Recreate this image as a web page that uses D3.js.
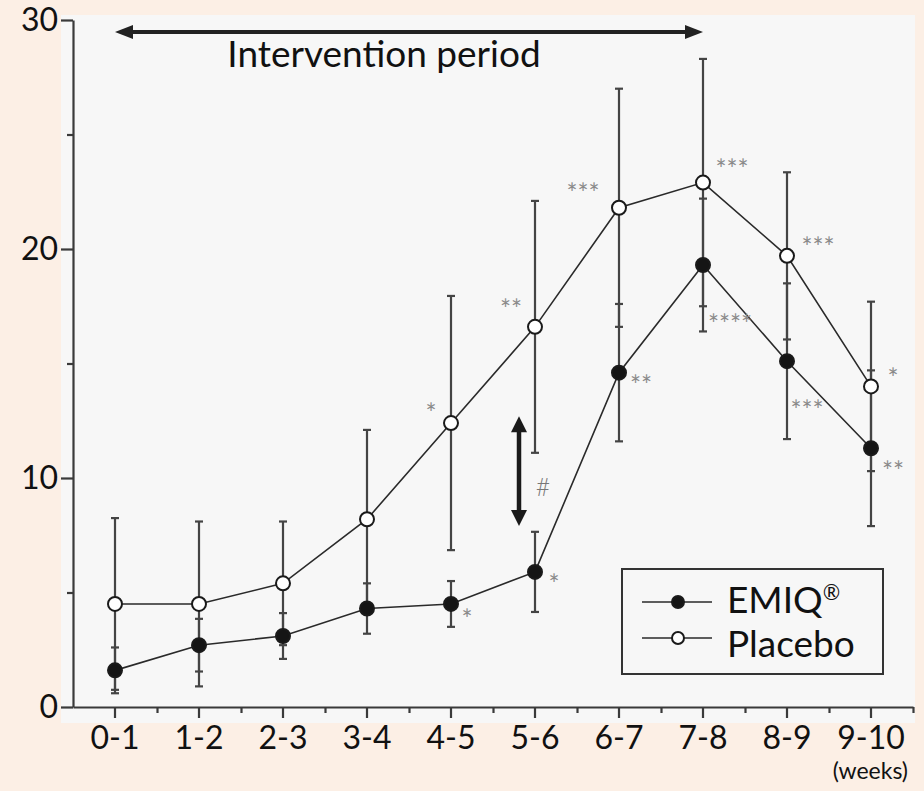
<!DOCTYPE html>
<html>
<head>
<meta charset="utf-8">
<script src="https://cdn.jsdelivr.net/npm/d3@7"></script>
<style>
  body { margin: 0; background: #fcefe5; }
  svg { display: block; font-family: Lato, "Open Sans", sans-serif; }
</style>
</head>
<body>
<div id="chart"></div>
<script>
// values
const weeks = ['0-1', '1-2', '2-3', '3-4', '4-5', '5-6', '6-7', '7-8', '8-9', '9-10'];
const emiqMean = [1.6, 2.7, 3.1, 4.3, 4.5, 5.9, 14.6, 19.3, 15.1, 11.3];
const emiqSD = [1.0, 1.15, 1.0, 1.1, 1.0, 1.75, 3.0, 2.9, 3.4, 3.4];
const placeboMean = [4.5, 4.5, 5.4, 8.2, 12.4, 16.6, 21.8, 22.9, 19.7, 14.0];
const placeboSD = [3.75, 3.6, 2.7, 3.9, 5.55, 5.5, 5.2, 5.4, 3.65, 3.7];
const emiqSig = ['', '', '', '', '*', '*', '**', '****', '***', '**'];
const placeboSig = ['', '', '', '', '*', '**', '***', '***', '***', '*'];
const yMajor = [0, 10, 20, 30];
const yMinor = [5, 15, 25];

// where each significance mark sits relative to its point (px)
const emiqSigOffset = [null, null, null, null, [16, 11], [19, 8], [22, 8], [27, 55], [20, 44], [22, 18]];
const placeboSigOffset = [null, null, null, null, [-20, -14], [-24, -22], [-36, -19], [29, -18], [31, -13], [22, -13]];

const width = 924, height = 791;

const svg = d3.select('#chart')
  .append('svg')
  .attr('width', width)
  .attr('height', height);

// plot panel
svg.append('rect')
  .attr('x', 61).attr('y', 15)
  .attr('width', 854).attr('height', 708)
  .attr('fill', '#f7f7f7');

const x = d3.scaleBand().domain(weeks).range([73, 913]);
const xIdx = d3.scaleLinear().domain([-0.5, weeks.length - 0.5]).range([73, 913]);
const y = d3.scaleLinear().domain([0, 30]).range([707, 20]);
const cx = d => x(d) + x.bandwidth() / 2;

const axisColor = '#3a3a3a';

// y axis
const gy = svg.append('g').attr('transform', 'translate(73,0)');
gy.call(d3.axisLeft(y).tickValues(yMajor).tickSize(12).tickSizeOuter(0).tickPadding(3));
gy.append('g').call(d3.axisLeft(y).tickValues(yMinor).tickSize(6).tickFormat(''))
  .select('.domain').remove();

// x axis
const gx = svg.append('g').attr('transform', 'translate(0,707)');
gx.call(d3.axisBottom(x).tickSize(11).tickSizeOuter(0).tickPadding(8));
gx.append('g').call(d3.axisBottom(xIdx).tickValues(d3.range(0.5, weeks.length, 1)).tickSize(6).tickFormat(''))
  .select('.domain').remove();

svg.selectAll('.domain, .tick line')
  .attr('stroke', axisColor)
  .attr('stroke-width', 2.2);
svg.selectAll('.tick text')
  .attr('fill', '#111')
  .style('font-size', '32px')
  .style('font-family', 'Lato, "Open Sans", sans-serif');

svg.append('text')
  .attr('x', 908).attr('y', 779)
  .attr('text-anchor', 'end')
  .attr('fill', '#111')
  .style('font-size', '23px')
  .text('(weeks)');

// error bars
function errorBars(means, sds, cls) {
  const g = svg.append('g').attr('class', cls)
    .attr('stroke', '#444').attr('stroke-width', 2.2);
  weeks.forEach((w, i) => {
    const top = y(means[i] + sds[i]);
    const bot = y(means[i] - sds[i]);
    g.append('line').attr('x1', cx(w)).attr('x2', cx(w)).attr('y1', top).attr('y2', bot);
    g.append('line').attr('x1', cx(w) - 4).attr('x2', cx(w) + 4).attr('y1', top).attr('y2', top);
    g.append('line').attr('x1', cx(w) - 4).attr('x2', cx(w) + 4).attr('y1', bot).attr('y2', bot);
  });
}
errorBars(placeboMean, placeboSD, 'err-placebo');
errorBars(emiqMean, emiqSD, 'err-emiq');

const line = d3.line().x((d, i) => cx(weeks[i])).y(d => y(d));

function series(means, fill) {
  svg.append('path')
    .datum(means)
    .attr('d', line)
    .attr('fill', 'none')
    .attr('stroke', '#2a2a2a')
    .attr('stroke-width', 1.6);
  svg.append('g')
    .selectAll('circle')
    .data(means)
    .enter()
    .append('circle')
    .attr('cx', (d, i) => cx(weeks[i]))
    .attr('cy', d => y(d))
    .attr('r', 7)
    .attr('fill', fill)
    .attr('stroke', '#1a1a1a')
    .attr('stroke-width', 2);
}
series(emiqMean, '#151515');
series(placeboMean, '#ffffff');

// significance marks
function sigMarks(means, marks, offsets) {
  svg.append('g')
    .selectAll('text')
    .data(marks.map((m, i) => ({ m, i })).filter(d => d.m))
    .enter()
    .append('text')
    .attr('x', d => cx(weeks[d.i]) + offsets[d.i][0])
    .attr('y', d => y(means[d.i]) + offsets[d.i][1])
    .attr('dy', '0.55em')
    .attr('text-anchor', 'middle')
    .attr('fill', '#8a8a8a')
    .style('font-size', '26px')
    .text(d => d.m);
}
sigMarks(emiqMean, emiqSig, emiqSigOffset);
sigMarks(placeboMean, placeboSig, placeboSigOffset);

// arrow helpers
function arrowHead(xTip, yTip, dir, len, half) {
  // dir: unit vector the head points to
  const [ux, uy] = dir;
  const bx = xTip - ux * len, by = yTip - uy * len;
  return `M${xTip},${yTip}L${bx - uy * half},${by + ux * half}L${bx + uy * half},${by - ux * half}Z`;
}

// intervention period arrow
const ax1 = cx(weeks[0]), ax2 = cx(weeks[7]), ay = 32;
svg.append('line')
  .attr('x1', ax1 + 10).attr('x2', ax2 - 10).attr('y1', ay).attr('y2', ay)
  .attr('stroke', '#222').attr('stroke-width', 4);
svg.append('path').attr('d', arrowHead(ax1, ay, [-1, 0], 18, 7)).attr('fill', '#222');
svg.append('path').attr('d', arrowHead(ax2, ay, [1, 0], 18, 7)).attr('fill', '#222');
svg.append('text')
  .attr('x', 384).attr('y', 67)
  .attr('text-anchor', 'middle')
  .attr('fill', '#111')
  .style('font-size', '37px')
  .text('Intervention period');

// between-group difference arrow at 5-6
const dx = cx('5-6') - 16;
const dTop = y(12.7), dBot = y(7.9);
svg.append('line')
  .attr('x1', dx).attr('x2', dx).attr('y1', dTop + 12).attr('y2', dBot - 12)
  .attr('stroke', '#1a1a1a').attr('stroke-width', 4.5);
svg.append('path').attr('d', arrowHead(dx, dTop, [0, -1], 16, 8)).attr('fill', '#1a1a1a');
svg.append('path').attr('d', arrowHead(dx, dBot, [0, 1], 16, 8)).attr('fill', '#1a1a1a');
svg.append('text')
  .attr('x', dx + 24).attr('y', y(9.6))
  .attr('dy', '0.35em')
  .attr('text-anchor', 'middle')
  .attr('fill', '#777')
  .style('font-size', '25px')
  .style('font-weight', 300)
  .text('#');

// legend
const legend = svg.append('g').attr('transform', 'translate(622,569)');
legend.append('rect')
  .attr('width', 261).attr('height', 105)
  .attr('fill', '#f7f7f7')
  .attr('stroke', '#333').attr('stroke-width', 2);
const legendItems = [
  { label: 'EMIQ', sup: '®', fill: '#151515', y: 33, ty: 11 },
  { label: 'Placebo', sup: '', fill: '#ffffff', y: 69, ty: 19 }
];
const li = legend.selectAll('.legend')
  .data(legendItems)
  .enter()
  .append('g')
  .attr('class', 'legend')
  .attr('transform', d => `translate(0,${d.y})`);
li.append('line')
  .attr('x1', 20).attr('x2', 90)
  .attr('stroke', '#2a2a2a').attr('stroke-width', 1.6);
li.append('circle')
  .attr('cx', 56).attr('r', 6)
  .attr('fill', d => d.fill)
  .attr('stroke', '#1a1a1a').attr('stroke-width', 2);
const lt = li.append('text')
  .attr('x', 105).attr('y', d => d.ty)
  .attr('fill', '#111')
  .style('font-size', '37px');
lt.append('tspan').text(d => d.label);
lt.append('tspan')
  .attr('dy', '-0.6em')
  .style('font-size', '21px')
  .text(d => d.sup);
</script>
</body>
</html>
